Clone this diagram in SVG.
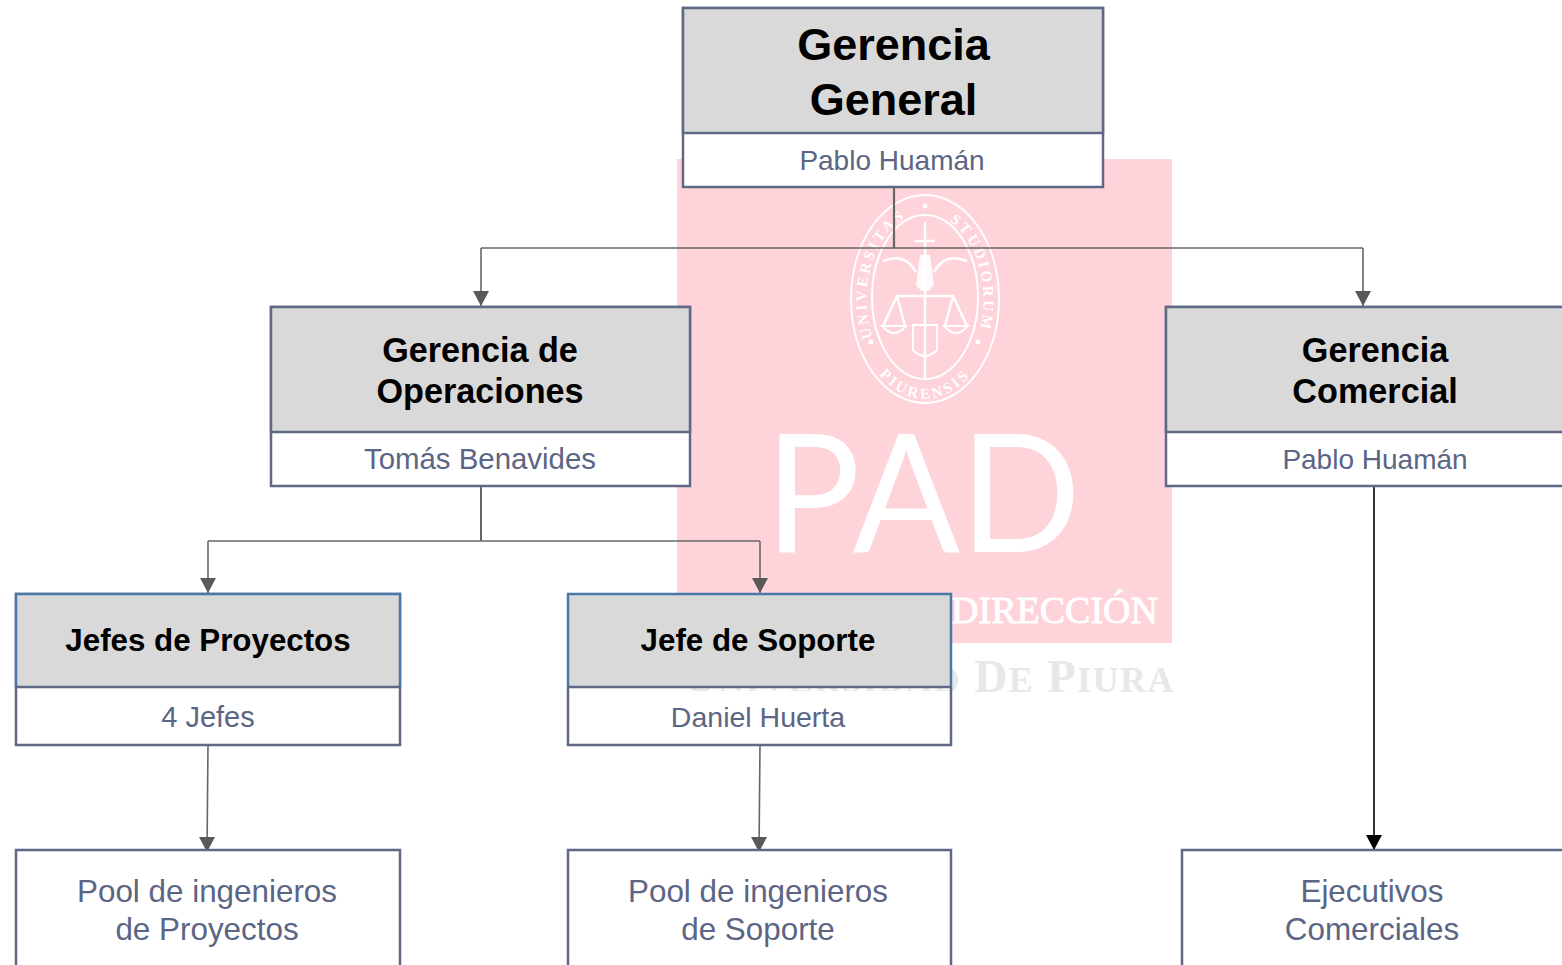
<svg xmlns="http://www.w3.org/2000/svg" width="1562" height="965" viewBox="0 0 1562 965">
<style>
.box{fill:#fff;stroke:#5f6985;stroke-width:2.5}
.head{fill:#d9d9d9;stroke:#5f6985;stroke-width:2.5}
.headb{fill:#d9d9d9;stroke:none}
.tb{stroke:#4a78a8;stroke-width:2.5;fill:none}
.dv{stroke:#5f6985;stroke-width:2.5;fill:none}
text{font-family:"Liberation Sans",Arial,sans-serif;text-anchor:middle}
.t1{font-weight:700;font-size:45px;fill:#000}
.t2{font-weight:700;font-size:34.2px;fill:#000}
.t3{font-weight:700;font-size:31.3px;fill:#000}
.s{font-size:28px;fill:#5b6584}
.p{font-size:31.4px;fill:#5b6584}
.c{fill:none;stroke:#666;stroke-width:1.6}
.cl{fill:none;stroke:#000;stroke-width:1.6}
.w{fill:none;stroke:#fff;stroke-width:2}
.wm{font-family:"Liberation Serif",serif;fill:#fff}
.seal{font-family:"Liberation Serif",serif;fill:#fff;font-size:15px;font-weight:700;letter-spacing:3px}
</style>
<defs>
<marker id="a" markerUnits="userSpaceOnUse" markerWidth="17" markerHeight="16" refX="8" refY="15" viewBox="0 0 16 16"><path d="M0 0H16L8 15Z" fill="#595959"/></marker>
<marker id="b" markerUnits="userSpaceOnUse" markerWidth="17" markerHeight="16" refX="8" refY="15" viewBox="0 0 16 16"><path d="M0 0H16L8 15Z" fill="#000"/></marker>
<path id="arcL" d="M877 349A56 85 0 0 1 919 214.5"/>
<path id="arcR" d="M931 214.5A56 85 0 0 1 973 349"/>
<path id="arcB" d="M872 364A70 100 0 0 0 978 364"/>
</defs>
<g id="watermark">
<rect x="677" y="159" width="495" height="484" fill="#ffd3da"/>
<ellipse class="w" cx="925" cy="299" rx="74" ry="104"/>
<ellipse class="w" cx="925" cy="297" rx="53" ry="82"/>
<text class="seal"><textPath href="#arcL" startOffset="50%">UNIVERSITAS</textPath></text>
<text class="seal"><textPath href="#arcR" startOffset="50%">STUDIORUM</textPath></text>
<text class="seal"><textPath href="#arcB" startOffset="50%">PIURENSIS</textPath></text>
<circle cx="925" cy="206" r="2.5" fill="#fff"/><circle cx="871" cy="342" r="2.5" fill="#fff"/><circle cx="978" cy="342" r="2.5" fill="#fff"/>
<path class="w" d="M925 222V380M915 241H935M883 261Q905 252 916 272M967 261Q945 252 934 272M896 296H954M897 296L883 326M897 296L905 326M953 296L945 326M953 296L967 326" style="stroke-width:2.5"/>
<path d="M920 255H930L934 285Q925 298 916 285Z" fill="#fff" opacity=".9"/>
<path class="w" d="M882 326Q894 340 906 326ZM944 326Q956 340 968 326ZM913 325H937V350Q925 362 913 350Z"/>
<text class="wm" x="923" y="552" font-size="164" textLength="316" lengthAdjust="spacingAndGlyphs" style="font-family:Lato,'Liberation Sans',sans-serif">PAD</text>
<text class="wm" x="1158" y="623" font-size="38" style="text-anchor:end;stroke:#fff;stroke-width:.9">DIRECCIÓN</text>
<text class="wm" x="1175" y="692" font-size="46" letter-spacing="1.5" style="text-anchor:end;fill:#e8e8e8;font-weight:700">U<tspan font-size="36">NIVERSIDAD</tspan> D<tspan font-size="36">E</tspan> P<tspan font-size="36">IURA</tspan></text>
</g>
<g id="connectors">
<path class="c" d="M894 187V248" style="stroke-width:2.2"/>
<path class="c" d="M481 248H1363"/>
<path class="c" d="M481 248V306" marker-end="url(#a)"/>
<path class="c" d="M1363 248V306" marker-end="url(#a)"/>
<path class="c" d="M481 487V541" style="stroke-width:2"/>
<path class="c" d="M208 541H760"/>
<path class="c" d="M208 541V593" marker-end="url(#a)"/>
<path class="c" d="M760 541V593" marker-end="url(#a)"/>
<path class="c" d="M208 745L207 852" marker-end="url(#a)"/>
<path class="c" d="M760 745L759 852" marker-end="url(#a)"/>
<path class="cl" d="M1374 487V850" marker-end="url(#b)"/>
</g>
<g id="gerencia-general">
<rect class="box" x="683" y="8" width="420" height="179"/>
<rect class="head" x="683" y="8" width="420" height="125"/>
<text class="t1" x="893.500" y="60">Gerencia</text>
<text class="t1" x="893.500" y="115">General</text>
<text class="s" x="892" y="170">Pablo Huamán</text>
</g>
<g id="gerencia-operaciones">
<rect class="box" x="271" y="307" width="419" height="179"/>
<rect class="head" x="271" y="307" width="419" height="125"/>
<text class="t2" x="480" y="362">Gerencia de</text>
<text class="t2" x="480" y="403">Operaciones</text>
<text class="s" x="480" y="469" style="font-size:29.4px">Tomás Benavides</text>
</g>
<g id="gerencia-comercial">
<rect class="box" x="1166" y="307" width="410" height="179"/>
<rect class="head" x="1166" y="307" width="410" height="125"/>
<text class="t2" x="1375" y="362">Gerencia</text>
<text class="t2" x="1375" y="403">Comercial</text>
<text class="s" x="1375" y="469">Pablo Huamán</text>
</g>
<g id="jefes-proyectos">
<rect class="box" x="16" y="594" width="384" height="151"/>
<rect class="headb" x="16" y="594" width="384" height="93"/>
<path class="tb" d="M16 687V594H400V687"/>
<path class="dv" d="M16 687H400"/>
<text class="t3" x="208" y="651">Jefes de Proyectos</text>
<text class="s" x="208" y="727" style="font-size:29px">4 Jefes</text>
</g>
<g id="jefe-soporte">
<path d="M568 691H951V745H568Z" fill="#fff"/>
<path class="dv" d="M568 687V745H951V687"/>
<rect class="headb" x="568" y="594" width="383" height="93"/>
<path class="tb" d="M568 687V594H951V687"/>
<path class="dv" d="M568 687H951"/>
<text class="t3" x="758" y="651">Jefe de Soporte</text>
<text class="s" x="758" y="727" style="font-size:28.5px">Daniel Huerta</text>
</g>
<g id="pool-proyectos">
<rect class="box" x="16" y="850" width="384" height="125"/>
<text class="p" x="207" y="902">Pool de ingenieros</text>
<text class="p" x="207" y="940">de Proyectos</text>
</g>
<g id="pool-soporte">
<rect class="box" x="568" y="850" width="383" height="125"/>
<text class="p" x="758" y="902">Pool de ingenieros</text>
<text class="p" x="758" y="940">de Soporte</text>
</g>
<g id="ejecutivos">
<rect class="box" x="1182" y="850" width="394" height="125"/>
<text class="p" x="1372" y="902">Ejecutivos</text>
<text class="p" x="1372" y="940">Comerciales</text>
</g>
</svg>
